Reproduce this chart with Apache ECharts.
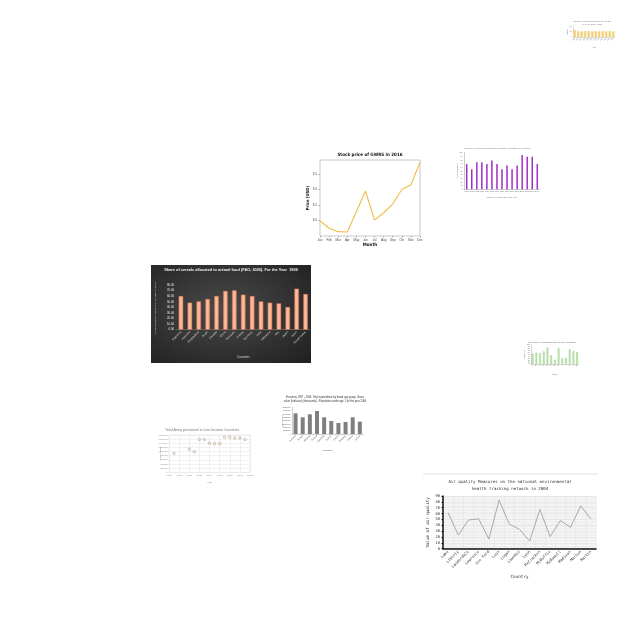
<!DOCTYPE html>
<html><head><meta charset="utf-8">
<script src="https://cdn.jsdelivr.net/npm/echarts@6/dist/echarts.min.js"></script>
<style>
html,body{margin:0;padding:0;background:#fff;width:640px;height:640px;overflow:hidden;}
.c{position:absolute;}
</style></head>
<body>
<div id="stock" class="c" style="left:290px;top:145px;width:160px;height:105px"></div>
<div id="cereal" class="c" style="left:151px;top:265px;width:160px;height:98px;background:radial-gradient(ellipse at 45% 45%,#4a4a4a 0%,#303030 60%,#1f1f1f 100%)"></div>
<div id="air" class="c" style="left:417px;top:470px;width:186px;height:115px"></div>
<div id="purple" class="c" style="left:455px;top:143px;width:85px;height:60px"></div>
<div id="econ" class="c" style="left:280px;top:393px;width:90px;height:62px"></div>
<div id="army" class="c" style="left:158px;top:425px;width:97px;height:62px"></div>
<div id="green" class="c" style="left:518px;top:338px;width:68px;height:42px"></div>
<div id="yellow" class="c" style="left:565px;top:17px;width:55px;height:33px"></div>
<script>
// ---------- data ----------
const stockMonths = ['Jan','Feb','Mar','Apr','May','Jun','Jul','Aug','Sep','Oct','Nov','Dec'];
const stockPrice = [7.99,7.75,7.64,7.63,8.28,8.95,8.01,8.25,8.53,9.0,9.15,9.88];

const cerealCountries = ['Argentina','Australia','Bangladesh','Brazil','Canada','China','Denmark','France','Germany','India','Indonesia','Italy','Japan','Spain','United States'];
const cerealShare = [60.3,48.4,50.7,54.9,60.3,69.3,70.4,62.7,60.3,50.7,48.4,47.2,40.6,73.4,63.9];

const airCountries = ['Lake','Liberty','Lauderdale','Lawrence','Lee Ford','Leon','Logan','Lowndes','Lyon','McCracken','McDuffie','McDowell','Madison','Marion','Martin'];
const airValues = [61.5,23.3,49,51,16.5,83,42,33,13,67,20.5,48,36.5,73,51];

const purpleYears = ['1990','1991','1992','1993','1994','1995','1996','1997','1998','1999','2000','2001','2002','2003','2004'];
const purpleValues = [69,55,74,74,69,79,69,55,65,55,65,94,89,89,69];

const econCountries = ['Australia','Austria','Belgium','Canada','Denmark','Finland','France','Germany','Greece','Iceland'];
const econValues = [6.2,5.0,5.9,6.9,5.0,3.9,3.3,3.6,5.0,3.7];

const armyYears = [1987,1990,1991,1992,1993,1994,1995,1996,1997,1998,1999,2000,2001];
const armyPersonnel = [918000,1116000,990000,1584000,1584000,1404000,1386000,1386000,1692000,1692000,1656000,1656000,1584000];

const greenNames = ['A','B','C','D','E','F','G','H','I','J','K','L','M'];
const greenValues = [54,59,57,66,86,46,23,82,29,32,77,68,63];

const yellowYears = ['2005','2006','2007','2008','2009','2010','2011','2012','2013','2014','2015','2016'];
const yellowValues = [68,57,56,58,57,56,57,56,57,56,57,56];

const SANS = 'Liberation Sans, Arial, sans-serif';
const NARROW = 'Liberation Sans Narrow, DejaVu Sans Condensed, sans-serif';
const MONO = 'DejaVu Sans Mono, Liberation Mono, monospace';
function mk(id, opt){
  opt.grid.outerBoundsMode = 'none';
  opt.grid.containLabel = false;
  opt.title.padding = 0;
  opt.xAxis.nameMoveOverlap = false;
  opt.yAxis.nameMoveOverlap = false;
  const c = echarts.init(document.getElementById(id), null, {renderer:'canvas'});
  c.setOption(opt);
}

// ---------- Stock ----------
mk('stock', {
  animation:false,
  title:{text:'Stock price of GWRS in 2016', left:'center', top:7.8, textStyle:{fontFamily:NARROW, fontWeight:'bold', fontSize:4.5, color:'#111'}},
  grid:{left:30, top:15, width:100, height:76, show:true, borderColor:'#c8c8c8', borderWidth:1},
  xAxis:{type:'category', data:stockMonths, boundaryGap:false,
    axisLine:{show:false}, axisTick:{show:true, length:1.5, lineStyle:{color:'#aaa'}},
    axisLabel:{fontSize:3, color:'#444', margin:2.5, interval:0},
    name:'Month', nameLocation:'middle', nameGap:6, nameTextStyle:{fontSize:4.5, fontWeight:'bold', color:'#111', fontFamily:NARROW}},
  yAxis:{type:'value', min:7.5, max:9.95, interval:0.5,
    axisLine:{show:false}, axisTick:{show:true, length:1.5, lineStyle:{color:'#aaa'}}, splitLine:{show:false},
    axisLabel:{fontSize:3, color:'#444', margin:3, showMinLabel:false, showMaxLabel:false, formatter:v=>v.toFixed(1)},
    name:'Price (USD)', nameLocation:'middle', nameGap:10, nameTextStyle:{fontSize:4.2, fontWeight:'bold', color:'#111', fontFamily:NARROW}},
  series:[{type:'line', data:stockPrice, symbol:'none', lineStyle:{color:'#f0be45', width:1.1}}]
});

// ---------- Cereal (dark) ----------
mk('cereal', {
  animation:false,
  title:{text:'Share of cereals allocated to animal food (FAO, 2020). For the Year  1996', left:'center', top:3,
    textStyle:{fontFamily:SANS, fontWeight:'bold', fontSize:3.9, color:'#f0f0f0'}},
  grid:{left:25.5, top:20, width:133.5, height:44.7},
  xAxis:{type:'category', data:cerealCountries,
    axisLine:{lineStyle:{color:'#888', width:0.5}}, axisTick:{show:false},
    axisLabel:{fontSize:2.8, color:'#ddd', rotate:45, interval:0, margin:2},
    name:'Countries', nameLocation:'middle', nameGap:26, nameTextStyle:{fontSize:3, color:'#ddd'}},
  yAxis:{type:'value', min:0, max:80, interval:10,
    axisLine:{show:false}, axisTick:{show:false}, splitLine:{show:false},
    axisLabel:{fontSize:2.8, color:'#eee', margin:2.5, formatter:v=>v.toFixed(2)},
    name:'Share of cereals allocated to animal feed (% of total)', nameLocation:'middle', nameGap:20, nameTextStyle:{fontSize:2.3, color:'#ddd'}},
  series:[{type:'bar', data:cerealShare, barWidth:'52%',
    itemStyle:{color:new echarts.graphic.LinearGradient(0,0,1,0,[{offset:0,color:'#f3a07c'},{offset:0.5,color:'#fbbfa2'},{offset:1,color:'#ee9670'}]), borderColor:'#c9663f', borderWidth:0.4}}]
});

// ---------- Air quality ----------
mk('air', {
  animation:false,
  graphic:[{type:'line', shape:{x1:6, y1:4, x2:181, y2:4}, style:{stroke:'#e2e2e2', lineWidth:1}}],
  title:{text:'Air quality Measures on the national environmental\nhealth tracking network in 2004', left:'center', top:8.5,
    textStyle:{fontFamily:MONO, fontWeight:'normal', fontSize:4.1, lineHeight:7, color:'#333'}},
  grid:{left:26, top:26, width:153, height:52.7, show:true, backgroundColor:'#f6f6f6', borderWidth:0},
  xAxis:{type:'category', data:airCountries,
    axisLine:{lineStyle:{color:'#111', width:1.5}}, axisTick:{show:false},
    splitLine:{show:true, lineStyle:{color:'#e2e2e2', width:0.5}},
    axisLabel:{fontFamily:MONO, fontSize:3.8, color:'#333', rotate:45, interval:0, margin:2.5},
    name:'Country', nameLocation:'middle', nameGap:26, nameTextStyle:{fontFamily:MONO, fontSize:4.3, color:'#333'}},
  yAxis:{type:'value', min:0, max:90, interval:10,
    axisLine:{show:true, lineStyle:{color:'#111', width:1.5}}, axisTick:{show:true, length:1.5},
    splitLine:{show:true, lineStyle:{color:'#dcdcdc', width:0.5}},
    minorTick:{show:false, splitNumber:4}, minorSplitLine:{show:true, lineStyle:{color:'#ebebeb', width:0.5}},
    axisLabel:{fontFamily:MONO, fontSize:3.8, color:'#333', margin:3},
    name:'Value of air quality', nameLocation:'middle', nameGap:13, nameTextStyle:{fontFamily:MONO, fontSize:4.2, color:'#333'}},
  series:[{type:'line', data:airValues, symbol:'none', lineStyle:{color:'#a9a9a9', width:1}}]
});

// ---------- Purple ----------
mk('purple', {
  animation:false,
  title:{text:'Number of enrolled students in tertiary education by country', left:'center', top:4, textStyle:{fontFamily:SANS, fontWeight:'normal', fontSize:2.5, color:'#777'}},
  grid:{left:9.2, top:9.7, width:75.6, height:36.6},
  xAxis:{type:'category', data:purpleYears,
    axisLine:{lineStyle:{color:'#999', width:0.5}}, axisTick:{show:false},
    axisLabel:{fontSize:2, color:'#777', interval:0, margin:1.5},
    name:'Number of students in the year', nameLocation:'middle', nameGap:7.4, nameTextStyle:{fontSize:2.2, color:'#777'}},
  yAxis:{type:'value', min:0, max:100, interval:10,
    axisLine:{show:true, lineStyle:{color:'#999', width:0.5}}, axisTick:{show:false}, splitLine:{show:false},
    axisLabel:{fontSize:2, color:'#777', margin:1.5},
    name:'Enrolled students', nameLocation:'middle', nameGap:6, nameTextStyle:{fontSize:2, color:'#777'}},
  series:[{type:'bar', data:purpleValues, barWidth:'30%', itemStyle:{color:'#a030c8'}}]
});

// ---------- Economy (gray) ----------
mk('econ', {
  animation:false,
  title:{text:'Economy 1997 - 2004: Total expenditure by broad age group, Gross\nvalue (Indicator) (thousands) - Population under age 1 for the year 2004', left:'center', top:2.1,
    textStyle:{fontFamily:SANS, fontWeight:'normal', fontSize:2.6, lineHeight:3.8, color:'#333'}},
  grid:{left:12, top:14.3, width:71.4, height:26.7},
  xAxis:{type:'category', data:econCountries,
    axisLine:{lineStyle:{color:'#999', width:0.5}}, axisTick:{show:false},
    axisLabel:{fontSize:2.2, color:'#555', rotate:45, interval:0, margin:1.5},
    name:'Countries', nameLocation:'middle', nameGap:15.5, nameTextStyle:{fontSize:2.3, color:'#555'}},
  yAxis:{type:'value', min:0, max:8, interval:1,
    axisLine:{show:true, lineStyle:{color:'#999', width:0.5}}, axisTick:{show:false}, splitLine:{show:false},
    axisLabel:{fontSize:2, color:'#555', margin:1.5, formatter:v=>(v*1000000).toString()},
    name:'Expenditure', nameLocation:'middle', nameGap:9, nameTextStyle:{fontSize:2.2, color:'#555'}},
  series:[{type:'bar', data:econValues, barWidth:'56%', itemStyle:{color:'#7f7f7f'}}]
});

// ---------- Army (scatter) ----------
mk('army', {
  animation:false,
  title:{text:'Total Army personnel in Low Income Countries', left:7, top:3.2, textStyle:{fontFamily:SANS, fontWeight:'normal', fontSize:3.6, color:'#777'}},
  grid:{left:11, top:10, width:81, height:37.3, show:true, borderColor:'#ddd', borderWidth:0.5},
  xAxis:{type:'value', min:1986, max:2002, interval:2,
    axisLine:{show:false}, axisTick:{show:false},
    splitLine:{show:true, lineStyle:{color:'#e3e3e3', width:0.5}},
    axisLabel:{fontSize:2.2, color:'#777', margin:2},
    name:'Year', nameLocation:'middle', nameGap:8.7, nameTextStyle:{fontSize:2.4, color:'#777'}},
  yAxis:{type:'value', min:0, max:1800000, interval:200000,
    axisLine:{show:false}, axisTick:{show:false},
    splitLine:{show:true, lineStyle:{color:'#e3e3e3', width:0.5}},
    axisLabel:{fontSize:2, color:'#777', margin:1.5, formatter:v=>v.toLocaleString('en-US')},
    name:'Army personnel', nameLocation:'middle', nameGap:8, nameTextStyle:{fontSize:2, color:'#777'}},
  series:[{type:'scatter', data:armyYears.map((y,i)=>[y, armyPersonnel[i]]), symbol:'circle', symbolSize:2.5,
    itemStyle:{color:'rgba(255,255,255,0)', borderColor:'#9a8566', borderWidth:0.6}}]
});

// ---------- Green ----------
mk('green', {
  animation:false,
  title:{text:'Percentage of population with access to electricity', left:'center', top:2.9, textStyle:{fontFamily:SANS, fontWeight:'normal', fontSize:2.2, color:'#666'}},
  grid:{left:12.8, top:7, width:48.2, height:19},
  xAxis:{type:'category', data:greenNames,
    axisLine:{lineStyle:{color:'#aaa', width:0.5}}, axisTick:{show:false},
    axisLabel:{fontSize:1.8, color:'#666', rotate:45, interval:0, margin:1},
    name:'Name', nameLocation:'middle', nameGap:9, nameTextStyle:{fontSize:2, color:'#666'}},
  yAxis:{type:'value', min:0, max:100, interval:10,
    axisLine:{show:true, lineStyle:{color:'#aaa', width:0.5}}, axisTick:{show:false}, splitLine:{show:false},
    axisLabel:{fontSize:1.8, color:'#666', margin:1},
    name:'Percentage', nameLocation:'middle', nameGap:5, nameTextStyle:{fontSize:1.8, color:'#666'}},
  series:[{type:'bar', data:greenValues, barWidth:'45%', itemStyle:{color:'#cdeac0', borderColor:'#7cc46a', borderWidth:0.4}}]
});

// ---------- Yellow ----------
mk('yellow', {
  animation:false,
  title:{text:'Number of tourist arrivals in the country\nby year, 2005 - 2016', left:'center', top:3.1, textStyle:{fontFamily:SANS, fontWeight:'normal', fontSize:2.2, lineHeight:3, color:'#777'}},
  grid:{left:8, top:10, width:42, height:10},
  xAxis:{type:'category', data:yellowYears,
    axisLine:{lineStyle:{color:'#bbb', width:0.5}}, axisTick:{show:false},
    axisLabel:{fontSize:1.6, color:'#777', rotate:45, interval:0, margin:1},
    name:'Year', nameLocation:'middle', nameGap:9.5, nameTextStyle:{fontSize:1.8, color:'#777'}},
  yAxis:{type:'value', min:0, max:100, interval:50,
    axisLine:{show:true, lineStyle:{color:'#bbb', width:0.5}}, axisTick:{show:false}, splitLine:{show:false},
    axisLabel:{fontSize:1.6, color:'#777', margin:1},
    name:'Arrivals', nameLocation:'middle', nameGap:4, nameTextStyle:{fontSize:1.6, color:'#777'}},
  series:[{type:'bar', data:yellowValues, barWidth:'60%', itemStyle:{color:'#f7d27a', borderColor:'#e9b949', borderWidth:0.3}}]
});
</script>
</body></html>
